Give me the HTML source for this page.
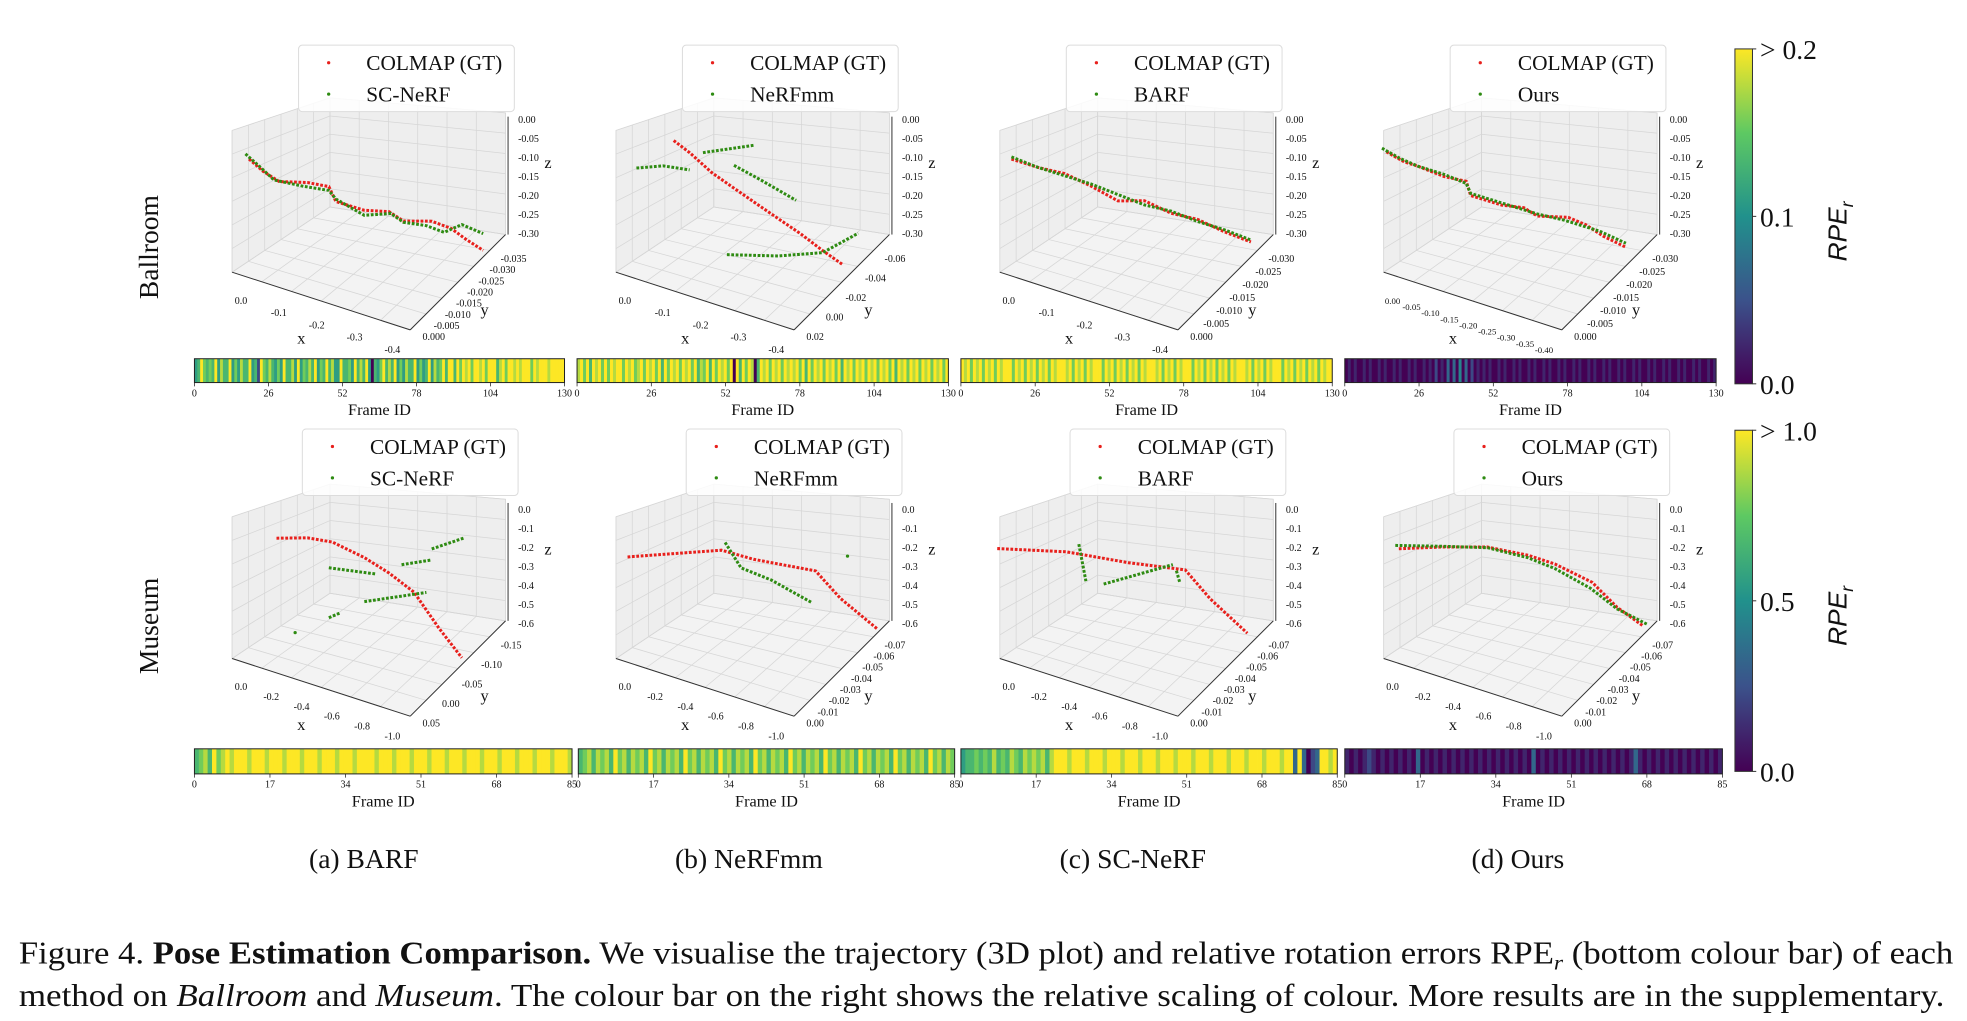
<!DOCTYPE html>
<html><head><meta charset="utf-8">
<style>
html,body{margin:0;padding:0;background:#fff;}
svg{display:block;}
text{font-family:"Liberation Serif",serif;fill:#111;}
</style></head>
<body>
<svg id="fig" width="1967" height="1021" viewBox="0 0 1568 814" preserveAspectRatio="none" xmlns="http://www.w3.org/2000/svg">
<defs>
<linearGradient id="vir" x1="0" y1="1" x2="0" y2="0">
<stop offset="0" stop-color="#440154"/><stop offset="0.25" stop-color="#3b528b"/><stop offset="0.5" stop-color="#21918c"/><stop offset="0.75" stop-color="#5ec962"/><stop offset="1" stop-color="#fde725"/>
</linearGradient>
</defs>
<g id="panels"></g>
<text font-size="22" text-anchor="middle" transform="translate(126,197) rotate(-90)">Ballroom</text>
<text font-size="22" text-anchor="middle" transform="translate(126,499) rotate(-90)">Museum</text>
<g font-size="22" text-anchor="middle">
<text x="290" y="692">(a) BARF</text>
<text x="597" y="692">(b) NeRFmm</text>
<text x="903" y="692">(c) SC-NeRF</text>
<text x="1210" y="692">(d) Ours</text>
</g>
<text x="15" y="768" font-size="25" textLength="1542" lengthAdjust="spacingAndGlyphs">Figure 4. <tspan font-weight="bold">Pose Estimation Comparison.</tspan> We visualise the trajectory (3D plot) and relative rotation errors RPE<tspan font-style="italic" font-size="17" dy="5">r</tspan><tspan dy="-5"> (bottom colour bar) of each</tspan></text>
<text x="15" y="802" font-size="25" textLength="1535" lengthAdjust="spacingAndGlyphs">method on <tspan font-style="italic">Ballroom</tspan> and <tspan font-style="italic">Museum</tspan>. The colour bar on the right shows the relative scaling of colour. More results are in the supplementary.</text>
</svg>
<script>
// ---------- data ----------
const methods = [["SC-NeRF","NeRFmm","BARF","Ours"],["SC-NeRF","NeRFmm","BARF","Ours"]];
const xTicksRow0 = [["0.0","-0.1","-0.2","-0.3","-0.4"],["0.0","-0.1","-0.2","-0.3","-0.4"],["0.0","-0.1","-0.2","-0.3","-0.4"],["0.00","-0.05","-0.10","-0.15","-0.20","-0.25","-0.30","-0.35","-0.40"]];
const yTicksRow0 = [["0.000","-0.005","-0.010","-0.015","-0.020","-0.025","-0.030","-0.035"],["0.02","0.00","-0.02","-0.04","-0.06"],["0.000","-0.005","-0.010","-0.015","-0.020","-0.025","-0.030"],["0.000","-0.005","-0.010","-0.015","-0.020","-0.025","-0.030"]];
const zTicksRow0 = ["0.00","-0.05","-0.10","-0.15","-0.20","-0.25","-0.30"];
const xTicksRow1 = ["0.0","-0.2","-0.4","-0.6","-0.8","-1.0"];
const yTicksRow1 = [["0.05","0.00","-0.05","-0.10","-0.15"],["0.00","-0.01","-0.02","-0.03","-0.04","-0.05","-0.06","-0.07"],["0.00","-0.01","-0.02","-0.03","-0.04","-0.05","-0.06","-0.07"],["0.00","-0.01","-0.02","-0.03","-0.04","-0.05","-0.06","-0.07"]];
const zTicksRow1 = ["0.0","-0.1","-0.2","-0.3","-0.4","-0.5","-0.6"];
const xRange = [[0,-0.4],[0,-1.0]];
const zRange = [[-0.3,0],[-0.6,0]];
// trajectories (x, z in axis units; null = gap)
const gtX = [
 [[0.028,-0.004,-0.04,-0.104,-0.152,-0.168,-0.232,-0.288,-0.32,-0.384,-0.428,-0.46,-0.5],
  [-0.064,-0.1,-0.15,-0.2,-0.25,-0.3,-0.35,-0.4,-0.445],
  [0.04,-0.02,-0.08,-0.14,-0.2,-0.26,-0.32,-0.38,-0.44,-0.5],
  [0.06,0.02,-0.01,-0.07,-0.12,-0.13,-0.2,-0.25,-0.28,-0.35,-0.39,-0.43,-0.48]],
 [[-0.085,-0.26,-0.4,-0.58,-0.72,-0.86,-1.0,-1.13],
  [0.1,-0.43,-0.61,-0.96,-1.1,-1.31],
  [0.18,-0.21,-0.56,-0.88,-1.02,-1.23],
  [0.08,-0.17,-0.42,-0.65,-0.8,-1.01,-1.15,-1.3]]];
const gtZ = [
 [[-0.096,-0.114,-0.126,-0.108,-0.102,-0.132,-0.132,-0.117,-0.129,-0.108,-0.111,-0.126,-0.141],
  [-0.024,-0.04,-0.07,-0.09,-0.11,-0.13,-0.15,-0.175,-0.195],
  [-0.1,-0.1,-0.095,-0.105,-0.12,-0.1,-0.11,-0.105,-0.115,-0.12],
  [-0.09,-0.1,-0.1,-0.105,-0.1,-0.13,-0.13,-0.12,-0.13,-0.11,-0.115,-0.13,-0.14]],
 [[-0.12,-0.072,-0.054,-0.078,-0.114,-0.168,-0.306,-0.42],
  [-0.252,-0.084,-0.078,-0.036,-0.132,-0.228],
  [-0.234,-0.15,-0.108,-0.054,-0.156,-0.27],
  [-0.21,-0.138,-0.072,-0.048,-0.048,-0.078,-0.162,-0.216]]];
const estX = [
 [[0.036,0,-0.028,-0.092,-0.152,-0.168,-0.232,-0.292,-0.32,-0.372,-0.412,-0.452,-0.5],
  [0.02,-0.04,-0.1,null,-0.13,-0.244,null,-0.2,-0.26,-0.34,null,-0.184,-0.3,-0.4,-0.48],
  [0.04,-0.02,-0.08,-0.14,-0.2,-0.26,-0.32,-0.38,-0.44,-0.5],
  [0.07,0.03,-0.01,-0.07,-0.12,-0.13,-0.2,-0.25,-0.28,-0.34,-0.38,-0.42,-0.48]],
 [[-0.38,-0.65,null,-0.58,-0.93,null,-0.79,-0.96,null,-0.96,-1.14,null,-0.19,null,-0.38,-0.44],
  [-0.45,-0.54,-0.71,-0.94,null,-1.14],
  [-0.28,-0.32,null,-0.42,-0.81,null,-0.83,-0.85],
  [0.1,-0.17,-0.42,-0.65,-0.8,-1.0,-1.15,-1.32]]];
const estZ = [
 [[-0.087,-0.108,-0.126,-0.12,-0.111,-0.126,-0.144,-0.12,-0.132,-0.123,-0.126,-0.093,-0.099],
  [-0.114,-0.09,-0.08,null,-0.03,0.027,null,-0.036,-0.05,-0.072,null,-0.252,-0.22,-0.18,-0.105],
  [-0.095,-0.1,-0.1,-0.1,-0.105,-0.11,-0.105,-0.11,-0.11,-0.115],
  [-0.085,-0.095,-0.1,-0.1,-0.105,-0.125,-0.125,-0.125,-0.125,-0.12,-0.12,-0.12,-0.13]],
 [[-0.18,-0.138,null,-0.288,-0.15,null,-0.054,0.018,null,0.072,0.18,null,-0.528,null,-0.414,-0.378],
  [-0.042,-0.138,-0.15,-0.198,null,0.09],
  [-0.096,-0.258,null,-0.246,-0.048,null,-0.072,-0.126],
  [-0.2,-0.135,-0.075,-0.06,-0.07,-0.11,-0.17,-0.2]]];
// per-frame RPE_r (0-9 scale) for colour bars
const rpeRow0 = [
 "5697676958669575866956297686575966859576869576968559667596869506579686957586695756958679699697989799897999689799898999798999899999",
 "8979698979798997989789798979697989798979687969798979096979806989798979898979697989798979698979897989798979698979897989798979",
 "9897989798979899979897989798979899989798979899979897989798979899989798979899979897989798979899989798979899979897989798979899",
 "0101001010010100101001010010102010303040302010101001010010100101001010010100101001010010100101001010010100101001010010100101"];
const rpeRow1 = [
 "67869789899989998999899989998999899989999899989998999899989998999899989998999899989998",
 "67868786978687869786878697868786978687869786878697868786978687869786878697868786978687",
 "5667676867687687878689998999899989998999899989998999899989998999899989998993930239989",
 "1010121010101010301010101010101010101010103010101010101010101010131010101010101010101"];
const frameTicks = [["0","26","52","78","104","130"],["0","17","34","51","68","85"]];
const cbarTicks = [["> 0.2","0.1","0.0"],["> 1.0","0.5","0.0"]];

// ---------- helpers ----------
const NS = "http://www.w3.org/2000/svg";
const root = document.getElementById("panels");
function mk(tag, attrs, parent){const e=document.createElementNS(NS,tag);for(const k in attrs)e.setAttribute(k,attrs[k]);(parent||root).appendChild(e);return e;}
const VIR = [[68,1,84],[59,82,139],[33,145,140],[94,201,98],[253,231,37]];
function viridis(t){t=Math.max(0,Math.min(1,t));const s=t*4,i=Math.min(3,Math.floor(s)),f=s-i;const a=VIR[i],b=VIR[i+1];return `rgb(${Math.round(a[0]+(b[0]-a[0])*f)},${Math.round(a[1]+(b[1]-a[1])*f)},${Math.round(a[2]+(b[2]-a[2])*f)})`;}
function lerp(p,q,t){return [p[0]+(q[0]-p[0])*t,p[1]+(q[1]-p[1])*t];}

// box geometry (relative to panel origin)
const A=[185,217],B=[327,263],C=[403,187],D=[263,165],hA=113,hD=87,hC=97;
function project(ox,oy,r,x,z){
  const fx=(x-xRange[r][0])/(xRange[r][1]-xRange[r][0]);
  const fy=0.3;
  const fz=(z-zRange[r][0])/(zRange[r][1]-zRange[r][0]);
  const f1=lerp(A,B,fx), f2=lerp(D,C,fx), F=lerp(f1,f2,fy);
  const h=(hA+(hC-hA)*fx)*(1-fy)+(hD+(hC-hD)*fx)*fy;
  return [ox+F[0], oy+F[1]-h*fz];
}
function pt(ox,oy,p){return (ox+p[0])+","+(oy+p[1]);}

function drawPanel(r,c){
  const ox=306*c, oy=308*r;
  const g=mk("g",{});
  
  
  const Ap=[A[0],A[1]-hA],Dp=[D[0],D[1]-hD],Cp=[C[0],C[1]-hC];
  const panes=[[A,D,Dp,Ap],[D,C,Cp,Dp],[A,B,C,D]];
  panes.forEach((pp,i)=>{
    const pl=mk("polygon",{points:pp.map(p=>pt(ox,oy,p)).join(" "),fill:i==2?"#f3f3f3":"#eeeeee",stroke:"#e0e0e0","stroke-width":0.6},g);
    
    
  });
  for(let k=0;k<=6;k++){const t=k/6;
    let p=lerp(A,B,t),q=lerp(D,C,t);mk("line",{x1:ox+p[0],y1:oy+p[1],x2:ox+q[0],y2:oy+q[1],stroke:"#d6d6d6","stroke-width":0.6},g);
    p=lerp(A,D,t);q=lerp(B,C,t);mk("line",{x1:ox+p[0],y1:oy+p[1],x2:ox+q[0],y2:oy+q[1],stroke:"#d6d6d6","stroke-width":0.6},g);
    p=lerp(A,D,t);q=lerp(Ap,Dp,t);mk("line",{x1:ox+p[0],y1:oy+p[1],x2:ox+q[0],y2:oy+q[1],stroke:"#d6d6d6","stroke-width":0.6},g);
    p=lerp(D,C,t);q=lerp(Dp,Cp,t);mk("line",{x1:ox+p[0],y1:oy+p[1],x2:ox+q[0],y2:oy+q[1],stroke:"#d6d6d6","stroke-width":0.6},g);
    p=lerp(A,Ap,t);q=lerp(D,Dp,t);mk("line",{x1:ox+p[0],y1:oy+p[1],x2:ox+q[0],y2:oy+q[1],stroke:"#d6d6d6","stroke-width":0.6},g);
    p=lerp(D,Dp,t);q=lerp(C,Cp,t);mk("line",{x1:ox+p[0],y1:oy+p[1],x2:ox+q[0],y2:oy+q[1],stroke:"#d6d6d6","stroke-width":0.6},g);
  }
  mk("line",{x1:ox+A[0],y1:oy+A[1],x2:ox+B[0],y2:oy+B[1],stroke:"#333","stroke-width":0.8},g);
  mk("line",{x1:ox+B[0],y1:oy+B[1],x2:ox+C[0],y2:oy+C[1],stroke:"#333","stroke-width":0.8},g);
  mk("line",{x1:ox+C[0]+2,y1:oy+C[1],x2:ox+C[0]+2,y2:oy+Cp[1]+3,stroke:"#333","stroke-width":0.8},g);
  const xt = r==0 ? xTicksRow0[c] : xTicksRow1;
  const yt = r==0 ? yTicksRow0[c] : yTicksRow1[c];
  const zt = r==0 ? zTicksRow0 : zTicksRow1;
  xt.forEach((s,i)=>{const t=0.05+0.85*i/(xt.length-1);const p=lerp(A,B,t);
    const e=mk("text",{x:ox+p[0],y:oy+p[1]+23,"font-size":xt.length>6?7:8,"text-anchor":"middle"},g);e.textContent=s;
    
    });
  yt.forEach((s,i)=>{const t=0.05+0.82*i/(yt.length-1);const p=lerp(B,C,t);
    const e=mk("text",{x:ox+p[0]+6,y:oy+p[1]+12,"font-size":8},g);e.textContent=s;
    
    });
  zt.forEach((s,i)=>{const y=oy+95+(186-95)*i/(zt.length-1)+(r?3:0);
    const e=mk("text",{x:ox+C[0]+10,y:y+3,"font-size":8},g);e.textContent=s;
    
    });
  const lx=mk("text",{x:ox+237,y:oy+274,"font-size":13},g);lx.textContent="x";
  
  
  const ly=mk("text",{x:ox+383,y:oy+251,"font-size":13},g);ly.textContent="y";
  
  
  const lz=mk("text",{x:ox+434,y:oy+134,"font-size":13},g);lz.textContent="z";
  
  
  function series(xs,zs,color,name){
    let seg=[];const segs=[];
    xs.forEach((x,i)=>{if(x===null){if(seg.length)segs.push(seg);seg=[];}else seg.push(project(ox,oy,r,x,zs[i]));});
    if(seg.length)segs.push(seg);
    segs.forEach(s=>{
      if(s.length==1){const d=mk("circle",{cx:s[0][0],cy:s[0][1],r:1.3,fill:color},g);
        
        }
      else{const l=mk("polyline",{points:s.map(p=>p[0]+","+p[1]).join(" "),fill:"none",stroke:color,"stroke-width":2.4,"stroke-dasharray":"2.2 1.3"},g);
        
        }
    });
  }
  series(gtX[r][c],gtZ[r][c],"#e8201c","colmap-gt-trajectory");
  series(estX[r][c],estZ[r][c],"#2e8b12","estimated-trajectory");
  const lgx=ox+238+(r?3:0), lgy=oy+36-(r?2:0);
  const lg=mk("g",{},g);
  
  
  mk("rect",{x:lgx,y:lgy,width:172,height:53,rx:3,fill:"rgba(255,255,255,0.85)",stroke:"#dcdcdc","stroke-width":0.8},lg);
  const e1=mk("circle",{cx:lgx+24,cy:lgy+14,r:1.3,fill:"#e8201c"},lg);
  
  
  const e2=mk("circle",{cx:lgx+24,cy:lgy+39,r:1.3,fill:"#2e8b12"},lg);
  
  
  const t1=mk("text",{x:lgx+54,y:lgy+20,"font-size":17},lg);t1.textContent="COLMAP (GT)";
  
  
  const t2=mk("text",{x:lgx+54,y:lgy+45,"font-size":17},lg);t2.textContent=methods[r][c];
  
  
}

const barX = [[[155,450],[460,756],[766,1062],[1072,1368]],[[155,456],[461,761],[766,1066],[1072,1373]]];
const barY = [[286,305],[597,617]];
function drawBar(r,c){
  const vals = (r==0?rpeRow0:rpeRow1)[c].split("").map(Number);
  const [x0,x1]=barX[r][c],[y0,y1]=barY[r];
  const g=mk("g",{});
  
  
  const w=(x1-x0)/vals.length;
  vals.forEach((v,i)=>{const b=mk("rect",{x:x0+i*w,y:y0,width:w+0.3,height:y1-y0,fill:viridis(v/9)},g);
    
    });
  mk("rect",{x:x0,y:y0,width:x1-x0,height:y1-y0,fill:"none",stroke:"#222","stroke-width":0.8},g);
  const ft=frameTicks[r];
  ft.forEach((s,i)=>{const x=x0+(x1-x0)*i/(ft.length-1);
    mk("line",{x1:x,y1:y1,x2:x,y2:y1+3,stroke:"#222","stroke-width":0.6},g);
    const t=mk("text",{x:x,y:y1+11,"font-size":8,"text-anchor":"middle"},g);t.textContent=s;
    
    });
  const ti=mk("text",{x:(x0+x1)/2,y:y1+26,"font-size":13,"text-anchor":"middle"},g);ti.textContent="Frame ID";
  
  
}

const cbY = [[39,306],[343,615]];
function drawCbar(r){
  const [y0,y1]=cbY[r];
  const g=mk("g",{});
  
  
  mk("rect",{x:1383,y:y0,width:14,height:y1-y0,fill:"url(#vir)",stroke:"#333","stroke-width":0.8},g);
  cbarTicks[r].forEach((s,i)=>{const y=y0+(y1-y0)*i/2;
    mk("line",{x1:1397,y1:y,x2:1400,y2:y,stroke:"#333","stroke-width":0.8},g);
    const t=mk("text",{x:1403,y:y+8,"font-size":22},g);t.textContent=s;
    
    });
  const lab=mk("text",{transform:`translate(1472,${(y0+y1)/2+12}) rotate(-90)`,"font-size":21,"font-style":"italic","text-anchor":"middle",style:"font-family:'Liberation Sans',sans-serif"},g);
  lab.innerHTML='RPE<tspan font-size="14" dy="5">r</tspan>';
  
  
}

for(let r=0;r<2;r++){for(let c=0;c<4;c++){drawPanel(r,c);drawBar(r,c);}drawCbar(r);}
</script>
</body></html>
